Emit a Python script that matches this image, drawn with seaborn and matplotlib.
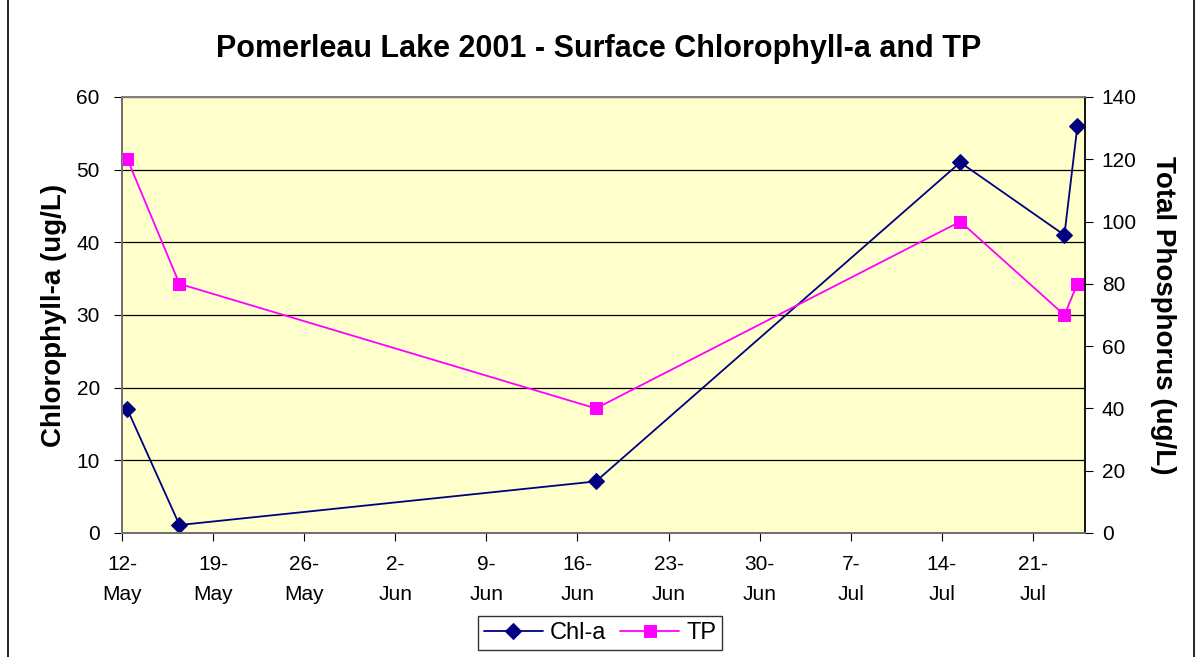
import numpy as np
import pandas as pd
import matplotlib.pyplot as plt
import seaborn as sns
from matplotlib.patches import Rectangle

# sample dates and values
dates = pd.to_datetime(["2001-05-12", "2001-05-16", "2001-06-17",
                        "2001-07-15", "2001-07-23", "2001-07-24"])
chl_a = [17, 1.1, 7.1, 51, 41, 56]
tp = [120, 80, 40, 100, 70, 80]
tick_dates = pd.date_range("2001-05-12", "2001-07-21", freq="7D")

sns.set_style("white")
plt.rcParams['font.family'] = ['Liberation Sans', 'DejaVu Sans']
plt.rcParams['text.color'] = 'black'
plt.rcParams['xtick.color'] = 'black'
plt.rcParams['ytick.color'] = 'black'
plt.rcParams['axes.labelcolor'] = 'black'

fig = plt.figure(figsize=(11.98, 6.57), dpi=100)
ax = fig.add_axes([122/1198, 1 - 533/657, (1085-122)/1198, (533-97)/657])
ax2 = ax.twinx()

# points sit about half a day past the day boundary in the original
xpos = dates + pd.Timedelta(hours=10)

sns.lineplot(x=xpos, y=chl_a, ax=ax, color='#000080', marker='D', markersize=8,
             markeredgecolor='#000080', linewidth=1.3, label='Chl-a', legend=False)
sns.lineplot(x=xpos, y=tp, ax=ax2, color='#FF00FF', marker='s', markersize=9,
             markeredgecolor='#FF00FF', linewidth=1.3, label='TP', legend=False)

ax.set_facecolor('#FFFFCC')
ax.set_xlim(pd.Timestamp("2001-05-12"), pd.Timestamp("2001-07-25"))
ax.set_ylim(0, 60)
ax2.set_ylim(0, 140)
ax.set_yticks(np.arange(0, 61, 10))
ax2.set_yticks(np.arange(0, 141, 20))
ax.set_xticks(tick_dates)
ax.set_xticklabels([d.strftime("%-d-\n%b") for d in tick_dates], linespacing=1.75)
ax.set_xlabel('')
ax.grid(axis='y', color='black', linewidth=0.9)
ax.set_axisbelow(True)

for a in (ax, ax2):
    for s in a.spines.values():
        s.set_color('#808080')
        s.set_linewidth(1.2)
ax.spines['left'].set_color('black')
ax.spines['bottom'].set_color('black')
ax2.spines['right'].set_color('black')

ax.tick_params(axis='both', labelsize=15, direction='out', length=6, color='black',
               left=True, bottom=True, pad=10)
ax2.tick_params(axis='y', labelsize=15, direction='out', length=6, color='black',
                right=True, pad=6)

ax.set_ylabel('Chlorophyll-a (ug/L)', fontsize=20, fontweight='bold', labelpad=7)
ax2.set_ylabel('Total Phosphorus (ug/L)', fontsize=20, fontweight='bold',
               rotation=270, labelpad=28)
fig.suptitle('Pomerleau Lake 2001 - Surface Chlorophyll-a and TP', fontsize=22,
             fontweight='bold', y=1 - 49/657, va='center')

h1, l1 = ax.get_legend_handles_labels()
h2, l2 = ax2.get_legend_handles_labels()
fig.legend(h1 + h2, l1 + l2, loc='center', bbox_to_anchor=(600/1198, 1 - 633/657),
           ncol=2, fontsize=17, frameon=True, fancybox=False, edgecolor='black',
           borderpad=0.25, handlelength=2.5, columnspacing=0.6, handletextpad=0.3,
           borderaxespad=0)

# outer chart border
fig.patches.append(Rectangle((8/1198, -0.01), 1 - 12/1198, 1.02, transform=fig.transFigure,
                             fill=False, edgecolor='black', linewidth=1.2))

fig.savefig('out.png', dpi=100)
